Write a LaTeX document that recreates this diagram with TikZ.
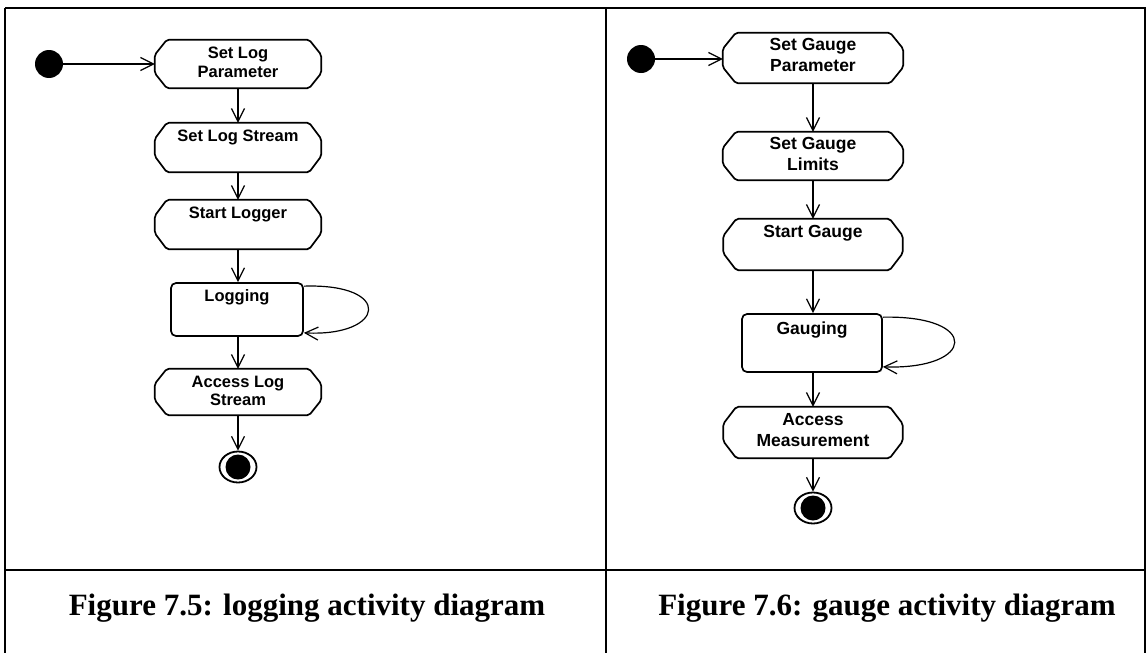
\documentclass[tikz,border=0pt]{standalone}
\usepackage{fontspec}
\setmainfont{Liberation Serif}
\setsansfont{Liberation Sans}
\usetikzlibrary{arrows.meta,shapes.geometric}

% text of an activity, set at the top of its box
\newcommand\acttext[2]{\parbox[c][#1][t]{126pt}{\centering #2}}

\begin{document}
\begin{tikzpicture}[x=1pt,y=-1pt,
  frame/.style={line width=2.2pt},
  outline/.style={line width=1.7pt, rounded corners=2pt},
  actL/.style={inner sep=0pt, font=\sffamily\bfseries\fontsize{16.5}{18.5}\selectfont},
  actR/.style={inner sep=0pt, font=\sffamily\bfseries\fontsize{17.5}{21.5}\selectfont},
  busy/.style={draw, line width=1.7pt, rounded corners=5pt},
  conn/.style={line width=1.2pt, -{Straight Barb[length=13pt,width=13pt]}},
  startnode/.style={circle, fill, minimum size=28pt, inner sep=0pt},
  endnode/.style={ellipse, draw, line width=1.8pt, minimum width=37pt,
    minimum height=31pt, inner sep=0pt,
    path picture={\fill (path picture bounding box.center) circle (12.5pt);}},
  caption/.style={anchor=base, font=\rmfamily\bfseries\fontsize{31}{36}\selectfont}
]
\useasboundingbox (0,0) rectangle (1147,653);

% table frame
\draw[frame] (5,8) -- (1146,8);
\draw[frame] (5,8) -- (5,653);
\draw[frame] (606,8) -- (606,653);
\draw[frame] (1145,8) -- (1145,653);
\draw[frame] (5,570) -- (1145,570);

% logging activity
\node[startnode] (LS) at (49,64) {};
\node[actL, minimum width=166pt, minimum height=48pt] (L1) at (238,64)
  {\acttext{34pt}{Set Log\\Parameter}};
\node[actL, minimum width=166pt, minimum height=49pt] (L2) at (238,147.5)
  {\acttext{35pt}{Set Log Stream}};
\node[actL, minimum width=166pt, minimum height=49pt] (L3) at (238,224.5)
  {\acttext{35pt}{Start Logger}};
\node[actL, busy, minimum width=132pt, minimum height=53pt] (L4) at (237,309.5)
  {\acttext{39pt}{Logging}};
\node[actL, minimum width=166pt, minimum height=46pt] (L5) at (238,392)
  {\acttext{32pt}{Access Log\\Stream}};
\node[endnode] (LE) at (238,467) {};

% gauge activity
\node[startnode] (RS) at (641,59) {};
\node[actR, minimum width=180pt, minimum height=50pt] (R1) at (813,58)
  {\acttext{40pt}{Set Gauge\\Parameter}};
\node[actR, minimum width=180pt, minimum height=48pt] (R2) at (813,156)
  {\acttext{38pt}{Set Gauge\\Limits}};
\node[actR, minimum width=179pt, minimum height=51pt] (R3) at (813,244.5)
  {\acttext{39pt}{Start Gauge}};
\node[actR, busy, minimum width=140pt, minimum height=58pt] (R4) at (812,343)
  {\acttext{42pt}{Gauging}};
\node[actR, minimum width=179pt, minimum height=51pt] (R5) at (813,432.5)
  {\acttext{39pt}{Access\\Measurement}};
\node[endnode] (RE) at (813,508) {};

% octagonal outlines of the action states
\foreach \n/\a/\b in {L1/12/15,L2/12/16,L3/12/16,L5/12/15,
                      R1/13/16,R2/13/16,R3/13/17,R5/13/17}
  \draw[outline] ([xshift=\a pt]\n.north west) -- ([xshift=-\a pt]\n.north east)
    -- ([yshift=-\b pt]\n.north east) -- ([yshift=\b pt]\n.south east)
    -- ([xshift=-\a pt]\n.south east) -- ([xshift=\a pt]\n.south west)
    -- ([yshift=\b pt]\n.south west) -- ([yshift=-\b pt]\n.north west) -- cycle;

% transitions
\draw[conn] (LS) -- (LS -| L1.west);
\draw[conn] (L1) -- (L2);
\draw[conn] (L2) -- (L3);
\draw[conn] (L3) -- (L4.north -| L3.south);
\draw[conn] (L4.south -| L5.north) -- (L5);
\draw[conn] (L5) -- (LE);
\draw[conn] ([yshift=-4pt]L4.north east) .. controls +(90,-3) and +(82,4)
  .. ([yshift=4pt]L4.south east);

\draw[conn] (RS) -- (RS -| R1.west);
\draw[conn] (R1) -- (R2);
\draw[conn] (R2) -- (R3);
\draw[conn] (R3) -- (R4.north -| R3.south);
\draw[conn] (R4.south -| R5.north) -- (R5);
\draw[conn] (R5) -- (RE);
\draw[conn] ([yshift=-4pt]R4.north east) .. controls +(98,-2) and +(93,3)
  .. ([yshift=6pt]R4.south east);

% captions
\node[caption] (capL) at (307,615) {Figure 7.5: logging activity diagram};
\node[caption] (capR) at (887,615) {Figure 7.6: gauge activity diagram};
\end{tikzpicture}
\end{document}
